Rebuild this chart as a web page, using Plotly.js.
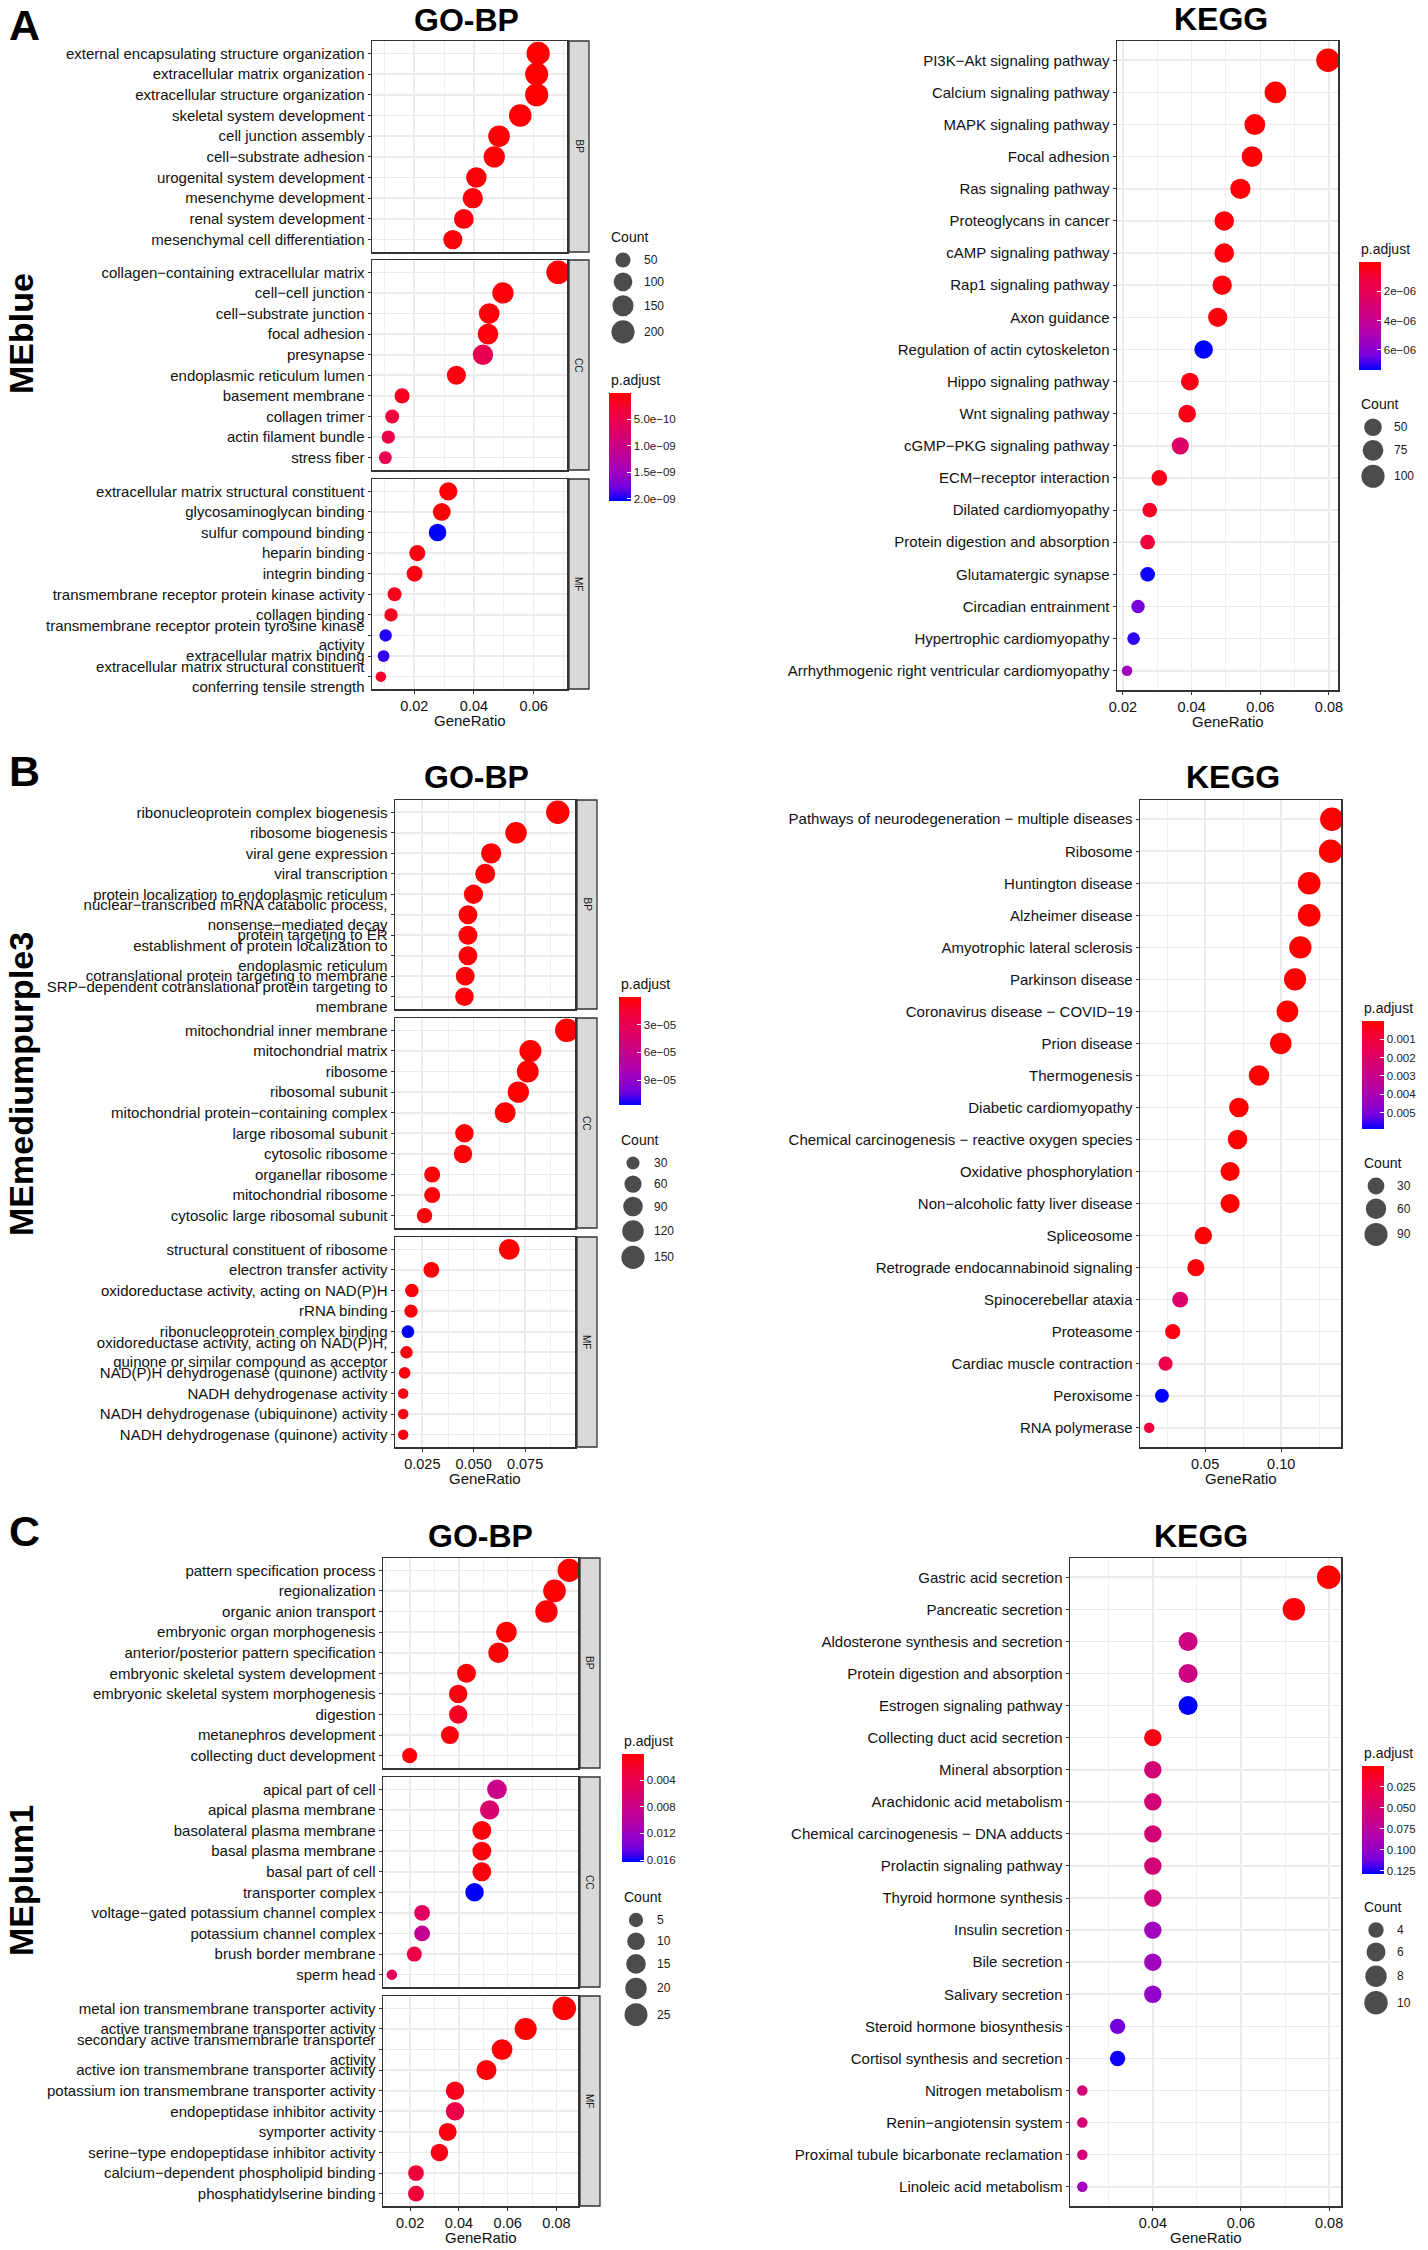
<!DOCTYPE html>
<html><head><meta charset="utf-8">
<script src="https://cdn.plot.ly/plotly-3.0.1.min.js"></script>
<style>html,body{margin:0;padding:0;background:#fff}#chart{width:1428px;height:2250px}</style>
</head><body><div id="chart"></div>
<script>
// ---------------- DATA ----------------
// Panel A (MEblue) GO
const goA_bp_terms = ["external encapsulating structure organization","extracellular matrix organization","extracellular structure organization","skeletal system development","cell junction assembly","cell−substrate adhesion","urogenital system development","mesenchyme development","renal system development","mesenchymal cell differentiation"];
const goA_bp_ratio = [0.0615,0.0610,0.0610,0.0555,0.0484,0.0468,0.0408,0.0396,0.0366,0.0329];
const goA_bp_count = [203,201,201,183,160,154,135,131,121,109];
const goA_bp_padj  = [1e-12,2e-12,2e-12,1.5e-11,3e-11,2.5e-11,4e-11,5e-11,6e-11,4e-11];
const goA_cc_terms = ["collagen−containing extracellular matrix","cell−cell junction","cell−substrate junction","focal adhesion","presynapse","endoplasmic reticulum lumen","basement membrane","collagen trimer","actin filament bundle","stress fiber"];
const goA_cc_ratio = [0.0682,0.0497,0.0451,0.0447,0.0430,0.0341,0.0159,0.0126,0.0113,0.0103];
const goA_cc_count = [211,154,140,139,133,106,49,39,35,32];
const goA_cc_padj  = [1e-12,4e-11,5e-11,6e-11,5.2e-10,8e-11,1.6e-10,3.5e-10,4.5e-10,5e-10];
const goA_mf_terms = ["extracellular matrix structural constituent","glycosaminoglycan binding","sulfur compound binding","heparin binding","integrin binding","transmembrane receptor protein kinase activity","collagen binding","transmembrane receptor protein tyrosine kinase<br>activity","extracellular matrix binding","extracellular matrix structural constituent<br>conferring tensile strength"];
const goA_mf_ratio = [0.0314,0.0292,0.0278,0.0210,0.0201,0.0134,0.0122,0.0104,0.0097,0.0088];
const goA_mf_count = [91,85,81,61,58,39,35,30,28,26];
const goA_mf_padj  = [2e-11,4e-11,2.04e-9,9e-11,1e-10,1.3e-10,1.8e-10,1.97e-9,1.92e-9,2.2e-10];
const goA_count_breaks = [50,100,150,200];
const goA_cb_vals = [5e-10,1e-9,1.5e-9,2e-9];
const goA_cb_text = ["5.0e−10","1.0e−09","1.5e−09","2.0e−09"];

// Panel A KEGG
const keggA_terms = ["PI3K−Akt signaling pathway","Calcium signaling pathway","MAPK signaling pathway","Focal adhesion","Ras signaling pathway","Proteoglycans in cancer","cAMP signaling pathway","Rap1 signaling pathway","Axon guidance","Regulation of actin cytoskeleton","Hippo signaling pathway","Wnt signaling pathway","cGMP−PKG signaling pathway","ECM−receptor interaction","Dilated cardiomyopathy","Protein digestion and absorption","Glutamatergic synapse","Circadian entrainment","Hypertrophic cardiomyopathy","Arrhythmogenic right ventricular cardiomyopathy"];
const keggA_ratio = [0.0797,0.0644,0.0584,0.0576,0.0542,0.0495,0.0495,0.0489,0.0476,0.0435,0.0395,0.0387,0.0367,0.0306,0.0278,0.0272,0.0272,0.0244,0.0231,0.0212];
const keggA_count = [104,84,76,75,71,65,65,64,62,57,52,51,48,40,36,36,36,32,30,28];
const keggA_padj  = [2e-8,5e-8,1e-7,1.2e-7,1.5e-7,2e-7,2e-7,2.5e-7,3e-7,7.36e-6,4e-7,4.5e-7,2.6e-6,5e-7,7e-7,1.25e-6,7.25e-6,6.3e-6,7e-6,5.3e-6];
const keggA_count_breaks = [50,75,100];
const keggA_cb_vals = [2e-6,4e-6,6e-6];
const keggA_cb_text = ["2e−06","4e−06","6e−06"];

// Panel B (MEmediumpurple3) GO
const goB_bp_terms = ["ribonucleoprotein complex biogenesis","ribosome biogenesis","viral gene expression","viral transcription","protein localization to endoplasmic reticulum","nuclear−transcribed mRNA catabolic process,<br>nonsense−mediated decay","protein targeting to ER","establishment of protein localization to<br>endoplasmic reticulum","cotranslational protein targeting to membrane","SRP−dependent cotranslational protein targeting to<br>membrane"];
const goB_bp_ratio = [0.0909,0.0706,0.0585,0.0556,0.0499,0.0472,0.0472,0.0472,0.0459,0.0455];
const goB_bp_count = [155,120,99,95,85,80,80,80,78,77];
const goB_bp_padj  = [2e-7,5e-7,1e-6,1.2e-6,1.5e-6,2e-6,2e-6,2.2e-6,2.5e-6,2.8e-6];
const goB_cc_terms = ["mitochondrial inner membrane","mitochondrial matrix","ribosome","ribosomal subunit","mitochondrial protein−containing complex","large ribosomal subunit","cytosolic ribosome","organellar ribosome","mitochondrial ribosome","cytosolic large ribosomal subunit"];
const goB_cc_ratio = [0.0953,0.0776,0.0763,0.0717,0.0653,0.0455,0.0448,0.0298,0.0298,0.0261];
const goB_cc_count = [157,128,126,118,108,75,74,49,49,43];
const goB_cc_padj  = [1e-7,3e-7,4e-7,6e-7,8e-7,1.5e-6,1.6e-6,2.5e-6,2.6e-6,3e-6];
const goB_mf_terms = ["structural constituent of ribosome","electron transfer activity","oxidoreductase activity, acting on NAD(P)H","rRNA binding","ribonucleoprotein complex binding","oxidoreductase activity, acting on NAD(P)H,<br>quinone or similar compound as acceptor","NAD(P)H dehydrogenase (quinone) activity","NADH dehydrogenase activity","NADH dehydrogenase (ubiquinone) activity","NADH dehydrogenase (quinone) activity"];
const goB_mf_ratio = [0.0673,0.0294,0.0199,0.0195,0.0180,0.0173,0.0164,0.0157,0.0157,0.0157];
const goB_mf_count = [108,47,32,31,29,28,26,25,25,25];
const goB_mf_padj  = [3e-7,1.5e-6,3e-6,3.5e-6,1.17e-4,4e-6,4.5e-6,5e-6,5e-6,5e-6];
const goB_count_breaks = [30,60,90,120,150];
const goB_cb_vals = [3e-5,6e-5,9e-5];
const goB_cb_text = ["3e−05","6e−05","9e−05"];

// Panel B KEGG
const keggB_terms = ["Pathways of neurodegeneration − multiple diseases","Ribosome","Huntington disease","Alzheimer disease","Amyotrophic lateral sclerosis","Parkinson disease","Coronavirus disease − COVID−19","Prion disease","Thermogenesis","Diabetic cardiomyopathy","Chemical carcinogenesis − reactive oxygen species","Oxidative phosphorylation","Non−alcoholic fatty liver disease","Spliceosome","Retrograde endocannabinoid signaling","Spinocerebellar ataxia","Proteasome","Cardiac muscle contraction","Peroxisome","RNA polymerase"];
const keggB_ratio = [0.1333,0.1325,0.1184,0.1184,0.1126,0.1091,0.1041,0.0997,0.0854,0.0722,0.0713,0.0664,0.0664,0.0488,0.0439,0.0336,0.0287,0.0240,0.0216,0.0132];
const keggB_count = [96,95,85,85,81,79,75,72,61,52,51,48,48,35,32,24,21,17,16,10];
const keggB_padj  = [1e-6,2e-6,3e-6,3e-6,4e-6,5e-6,6e-6,8e-6,1e-5,2e-5,2e-5,3e-5,3e-5,8e-5,1e-4,2.1e-3,2.5e-4,1.3e-3,5.9e-3,1e-3];
const keggB_count_breaks = [30,60,90];
const keggB_cb_vals = [0.001,0.002,0.003,0.004,0.005];
const keggB_cb_text = ["0.001","0.002","0.003","0.004","0.005"];

// Panel C (MEplum1) GO
const goC_bp_terms = ["pattern specification process","regionalization","organic anion transport","embryonic organ morphogenesis","anterior/posterior pattern specification","embryonic skeletal system development","embryonic skeletal system morphogenesis","digestion","metanephros development","collecting duct development"];
const goC_bp_ratio = [0.0852,0.0792,0.0759,0.0595,0.0562,0.0431,0.0397,0.0397,0.0363,0.0198];
const goC_bp_count = [26,24,23,18,17,13,12,12,11,6];
const goC_bp_padj  = [0.0001,0.0002,0.0003,0.0002,0.0003,0.0004,0.0008,0.0016,0.0006,0.0004];
const goC_cc_terms = ["apical part of cell","apical plasma membrane","basolateral plasma membrane","basal plasma membrane","basal part of cell","transporter complex","voltage−gated potassium channel complex","potassium channel complex","brush border membrane","sperm head"];
const goC_cc_ratio = [0.0556,0.0526,0.0494,0.0494,0.0494,0.0464,0.0249,0.0249,0.0217,0.0125];
const goC_cc_count = [15,14,13,13,13,12,7,7,6,3];
const goC_cc_padj  = [0.0082,0.0062,0.0005,0.0005,0.0006,0.0163,0.0052,0.0088,0.0036,0.0048];
const goC_mf_terms = ["metal ion transmembrane transporter activity","active transmembrane transporter activity","secondary active transmembrane transporter<br>activity","active ion transmembrane transporter activity","potassium ion transmembrane transporter activity","endopeptidase inhibitor activity","symporter activity","serine−type endopeptidase inhibitor activity","calcium−dependent phospholipid binding","phosphatidylserine binding"];
const goC_mf_ratio = [0.0832,0.0674,0.0577,0.0513,0.0384,0.0384,0.0354,0.0320,0.0224,0.0224];
const goC_mf_count = [27,22,18,16,12,12,11,10,7,7];
const goC_mf_padj  = [0.0001,0.0002,0.0003,0.0004,0.0012,0.0036,0.0009,0.0011,0.0028,0.0029];
const goC_count_breaks = [5,10,15,20,25];
const goC_cb_vals = [0.004,0.008,0.012,0.016];
const goC_cb_text = ["0.004","0.008","0.012","0.016"];

// Panel C KEGG
const keggC_terms = ["Gastric acid secretion","Pancreatic secretion","Aldosterone synthesis and secretion","Protein digestion and absorption","Estrogen signaling pathway","Collecting duct acid secretion","Mineral absorption","Arachidonic acid metabolism","Chemical carcinogenesis − DNA adducts","Prolactin signaling pathway","Thyroid hormone synthesis","Insulin secretion","Bile secretion","Salivary secretion","Steroid hormone biosynthesis","Cortisol synthesis and secretion","Nitrogen metabolism","Renin−angiotensin system","Proximal tubule bicarbonate reclamation","Linoleic acid metabolism"];
const keggC_ratio = [0.0799,0.0720,0.0480,0.0480,0.0480,0.0400,0.0400,0.0400,0.0400,0.0400,0.0400,0.0400,0.0400,0.0400,0.0320,0.0320,0.0240,0.0240,0.0240,0.0240];
const keggC_count = [10,9,6,6,6,5,5,5,5,5,5,5,5,5,4,4,3,3,3,3];
const keggC_padj  = [0.0006,0.004,0.061,0.061,0.129,0.008,0.054,0.054,0.054,0.054,0.058,0.093,0.093,0.100,0.112,0.127,0.054,0.054,0.054,0.093];
const keggC_count_breaks = [4,6,8,10];
const keggC_cb_vals = [0.025,0.05,0.075,0.1,0.125];
const keggC_cb_text = ["0.025","0.050","0.075","0.100","0.125"];

// ---------------- LAYOUT / STYLE ----------------
const W = 1428, H = 2250;
const FONT = 'Liberation Sans, Arial, Helvetica, sans-serif';
const px = x => x / W;
const py = y => 1 - y / H;
const SCALE = [[0,'#0000FF'],[0.125,'#7300E0'],[0.25,'#9A00C3'],[0.375,'#B500A5'],[0.5,'#C90088'],[0.625,'#DA006C'],[0.75,'#E80050'],[0.875,'#F40031'],[1,'#FF0000']];
const DMIN = 10.5, DMAX = 23.5;
const GRID = '#EBEBEB', BORDER = '#333333';

const panels = [
  {facets:[
     {strip:'BP',terms:goA_bp_terms,ratio:goA_bp_ratio,count:goA_bp_count,padj:goA_bp_padj},
     {strip:'CC',terms:goA_cc_terms,ratio:goA_cc_ratio,count:goA_cc_count,padj:goA_cc_padj},
     {strip:'MF',terms:goA_mf_terms,ratio:goA_mf_ratio,count:goA_mf_count,padj:goA_mf_padj}],
   x0:372,x1:567,sx0:569,sx1:589,ys:[[41,252],[260,470],[479,689]],
   title:'GO-BP',tx:466,ty:20,dtick:0.02,fmt:'.2f',
   breaks:goA_count_breaks,cbVals:goA_cb_vals,cbText:goA_cb_text,cbX:609,cbY:393,cntX:609,cntY:237},
  {facets:[{terms:keggA_terms,ratio:keggA_ratio,count:keggA_count,padj:keggA_padj}],
   x0:1117,x1:1338,ys:[[41,690]],
   title:'KEGG',tx:1221,ty:19,dtick:0.02,fmt:'.2f',
   breaks:keggA_count_breaks,cbVals:keggA_cb_vals,cbText:keggA_cb_text,cbX:1359,cbY:262,cntX:1359,cntY:404},
  {facets:[
     {strip:'BP',terms:goB_bp_terms,ratio:goB_bp_ratio,count:goB_bp_count,padj:goB_bp_padj},
     {strip:'CC',terms:goB_cc_terms,ratio:goB_cc_ratio,count:goB_cc_count,padj:goB_cc_padj},
     {strip:'MF',terms:goB_mf_terms,ratio:goB_mf_ratio,count:goB_mf_count,padj:goB_mf_padj}],
   x0:395,x1:575,sx0:577,sx1:597,ys:[[800,1009],[1018,1228],[1237,1447]],
   title:'GO-BP',tx:477,ty:777,dtick:0.025,fmt:'.3f',
   breaks:goB_count_breaks,cbVals:goB_cb_vals,cbText:goB_cb_text,cbX:619,cbY:997,cntX:619,cntY:1140},
  {facets:[{terms:keggB_terms,ratio:keggB_ratio,count:keggB_count,padj:keggB_padj}],
   x0:1140,x1:1341,ys:[[800,1447]],
   title:'KEGG',tx:1233,ty:777,dtick:0.05,fmt:'.2f',
   breaks:keggB_count_breaks,cbVals:keggB_cb_vals,cbText:keggB_cb_text,cbX:1362,cbY:1021,cntX:1362,cntY:1163},
  {facets:[
     {strip:'BP',terms:goC_bp_terms,ratio:goC_bp_ratio,count:goC_bp_count,padj:goC_bp_padj},
     {strip:'CC',terms:goC_cc_terms,ratio:goC_cc_ratio,count:goC_cc_count,padj:goC_cc_padj},
     {strip:'MF',terms:goC_mf_terms,ratio:goC_mf_ratio,count:goC_mf_count,padj:goC_mf_padj}],
   x0:383,x1:578,sx0:580,sx1:600,ys:[[1558,1768],[1777,1987],[1996,2206]],
   title:'GO-BP',tx:480,ty:1536,dtick:0.02,fmt:'.2f',
   breaks:goC_count_breaks,cbVals:goC_cb_vals,cbText:goC_cb_text,cbX:622,cbY:1754,cntX:622,cntY:1897},
  {facets:[{terms:keggC_terms,ratio:keggC_ratio,count:keggC_count,padj:keggC_padj}],
   x0:1070,x1:1341,ys:[[1558,2206]],
   title:'KEGG',tx:1201,ty:1536,dtick:0.02,fmt:'.2f',
   breaks:keggC_count_breaks,cbVals:keggC_cb_vals,cbText:keggC_cb_text,cbX:1362,cbY:1766,cntX:1362,cntY:1907}
];

const sideLabels = [
  {letter:'A', module:'MEblue', ly:25, my:334},
  {letter:'B', module:'MEmediumpurple3', ly:771, my:1084},
  {letter:'C', module:'MEplum1', ly:1531, my:1881}
];

const traces = [];
const layout = {
  width: W, height: H,
  margin: {l:0,r:0,t:0,b:0,autoexpand:false},
  paper_bgcolor: '#ffffff', plot_bgcolor: 'rgba(0,0,0,0)',
  font: {family: FONT, color: '#000'},
  showlegend: false,
  annotations: [], shapes: []
};

let ax = 0;
panels.forEach((p, pi) => {
  const allCounts = [].concat(...p.facets.map(f => f.count));
  const allRatio = [].concat(...p.facets.map(f => f.ratio));
  const allP = [].concat(...p.facets.map(f => f.padj));
  const cmin = Math.min(...allCounts), cmax = Math.max(...allCounts);
  const sizeOf = c => DMIN + (DMAX - DMIN) * Math.sqrt(Math.max(0, (c - cmin) / (cmax - cmin)));
  const rmin = Math.min(...allRatio), rmax = Math.max(...allRatio);
  const ex = (rmax - rmin) * 0.05;
  const xr = [rmin - ex, rmax + ex];
  const pmin = Math.min(...allP), pmax = Math.max(...allP);
  const caKey = 'coloraxis' + (pi === 0 ? '' : (pi + 1));
  layout[caKey] = {
    colorscale: SCALE, cmin: -pmax, cmax: -pmin,
    colorbar: {
      x: px(p.cbX), xanchor: 'left', xpad: 0,
      y: py(p.cbY), yanchor: 'top', ypad: 0,
      len: 108, lenmode: 'pixels', thickness: 22, thicknessmode: 'pixels',
      outlinewidth: 0, tickmode: 'array',
      tickvals: p.cbVals.map(v => -v), ticktext: p.cbText,
      ticks: 'inside', ticklen: 4, tickwidth: 1, tickcolor: '#ffffff',
      tickfont: {size: 11.5, color: '#1a1a1a', family: FONT},
      title: {text: ''}
    }
  };
  const nF = p.facets.length;
  p.facets.forEach((f, fi) => {
    ax += 1;
    const xk = 'xaxis' + (ax === 1 ? '' : ax), yk = 'yaxis' + (ax === 1 ? '' : ax);
    const xs = 'x' + (ax === 1 ? '' : ax), ysn = 'y' + (ax === 1 ? '' : ax);
    const [yt, yb] = p.ys[fi];
    const bottom = fi === nF - 1;
    layout[xk] = {
      domain: [px(p.x0), px(p.x1)], anchor: ysn, range: xr,
      tick0: 0, dtick: p.dtick, tickformat: p.fmt,
      showgrid: true, gridcolor: GRID, gridwidth: 1.6,
      minor: {tick0: 0, dtick: p.dtick / 2, showgrid: true, gridcolor: GRID, gridwidth: 0.8},
      zeroline: false, showline: true, mirror: true, linecolor: BORDER, linewidth: 1.5,
      ticks: bottom ? 'outside' : '', ticklen: 3, tickwidth: 1, tickcolor: BORDER,
      showticklabels: bottom, tickfont: {size: 14.5, color: '#111', family: FONT},
      automargin: false, fixedrange: true
    };
    layout[yk] = {
      domain: [py(yb), py(yt)], anchor: xs, type: 'category',
      categoryorder: 'array', categoryarray: f.terms.slice().reverse(),
      tickmode: 'array', tickvals: f.terms, ticktext: f.terms,
      range: [-0.6, f.terms.length - 0.4],
      showgrid: true, gridcolor: GRID, gridwidth: 1.6,
      zeroline: false, showline: true, mirror: true, linecolor: BORDER, linewidth: 1.5,
      ticks: 'outside', ticklen: 3, tickwidth: 1, tickcolor: BORDER,
      tickfont: {size: 15, color: '#111', family: FONT},
      automargin: false, fixedrange: true
    };
    traces.push({
      type: 'scatter', mode: 'markers', xaxis: xs, yaxis: ysn,
      x: f.ratio, y: f.terms,
      marker: {size: f.count.map(sizeOf), color: f.padj.map(v => -v), coloraxis: caKey, line: {width: 0}, opacity: 1},
      hoverinfo: 'skip'
    });
    if (f.strip) {
      layout.shapes.push({type: 'rect', xref: 'paper', yref: 'paper',
        x0: px(p.sx0), x1: px(p.sx1), y0: py(yb), y1: py(yt),
        fillcolor: '#D9D9D9', line: {color: BORDER, width: 1.3}, layer: 'above'});
      layout.annotations.push({xref: 'paper', yref: 'paper', x: px((p.sx0 + p.sx1) / 2), y: py((yt + yb) / 2),
        text: f.strip, textangle: 90, showarrow: false, xanchor: 'center', yanchor: 'middle',
        font: {size: 10, color: '#1a1a1a', family: FONT}});
    }
    if (bottom) {
      layout.annotations.push({xref: 'paper', yref: 'paper', x: px((p.x0 + p.x1) / 2), y: py(yb + 31),
        text: 'GeneRatio', showarrow: false, xanchor: 'center', yanchor: 'middle',
        font: {size: 15, color: '#111', family: FONT}});
    }
  });
  // title
  layout.annotations.push({xref: 'paper', yref: 'paper', x: px(p.tx), y: py(p.ty),
    text: '<b>' + p.title + '</b>', showarrow: false, xanchor: 'center', yanchor: 'middle',
    font: {size: 32, color: '#000', family: FONT}});
  // p.adjust title
  layout.annotations.push({xref: 'paper', yref: 'paper', x: px(p.cbX), y: py(p.cbY - 13),
    text: 'p.adjust', showarrow: false, xanchor: 'left', yanchor: 'middle',
    font: {size: 14, color: '#111', family: FONT}});
  // Count legend
  layout.annotations.push({xref: 'paper', yref: 'paper', x: px(p.cntX), y: py(p.cntY),
    text: 'Count', showarrow: false, xanchor: 'left', yanchor: 'middle',
    font: {size: 14, color: '#111', family: FONT}});
  let start = p.cntY + 12.5;
  const cys = [], ds = [];
  p.breaks.forEach(b => {
    const d = sizeOf(b);
    const h = Math.max(d, 17) + 4;
    cys.push(start + h / 2); ds.push(d);
    start += h;
  });
  traces.push({
    type: 'scatter', mode: 'markers', xaxis: 'x99', yaxis: 'y99',
    x: p.breaks.map(() => p.cntX + 14), y: cys,
    marker: {size: ds, color: '#000000', line: {width: 0}},
    cliponaxis: false, hoverinfo: 'skip'
  });
  p.breaks.forEach((b, i) => {
    layout.annotations.push({xref: 'paper', yref: 'paper', x: px(p.cntX + 33), y: py(cys[i]),
      text: String(b), showarrow: false, xanchor: 'left', yanchor: 'middle',
      font: {size: 12, color: '#1a1a1a', family: FONT}});
  });
});

layout.xaxis99 = {domain: [0, 1], range: [0, W], visible: false, fixedrange: true, anchor: 'y99'};
layout.yaxis99 = {domain: [0, 1], range: [H, 0], visible: false, fixedrange: true, anchor: 'x99'};

sideLabels.forEach(s => {
  layout.annotations.push({xref: 'paper', yref: 'paper', x: px(24), y: py(s.ly),
    text: '<b>' + s.letter + '</b>', showarrow: false, xanchor: 'center', yanchor: 'middle',
    font: {size: 43, color: '#000', family: FONT}});
  layout.annotations.push({xref: 'paper', yref: 'paper', x: px(21), y: py(s.my),
    text: '<b>' + s.module + '</b>', textangle: -90, showarrow: false, xanchor: 'center', yanchor: 'middle',
    font: {size: 34, color: '#000', family: FONT}});
});

Plotly.newPlot('chart', traces, layout, {staticPlot: true, displayModeBar: false});
</script></body></html>
